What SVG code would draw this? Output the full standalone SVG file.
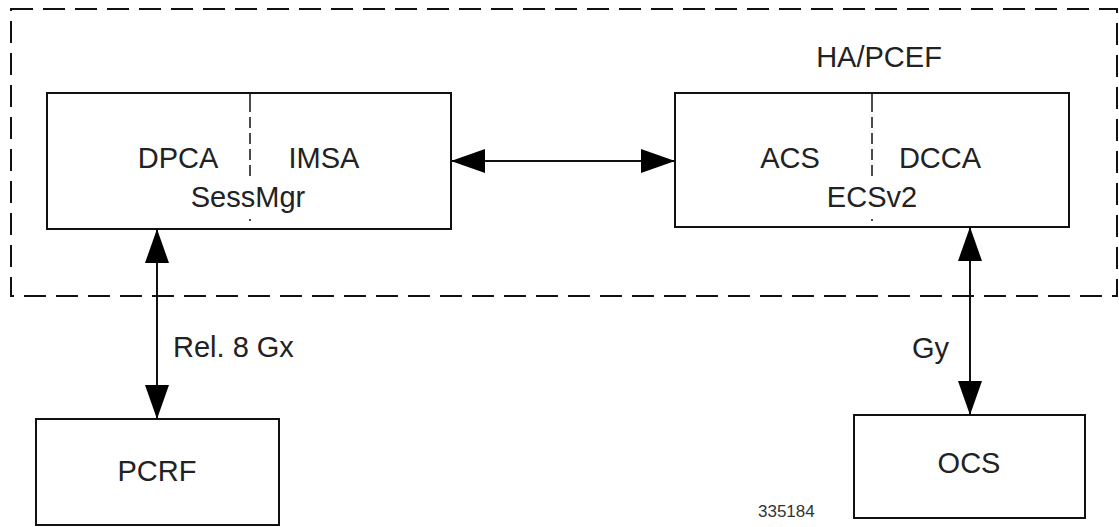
<svg xmlns="http://www.w3.org/2000/svg" width="1119" height="527" viewBox="0 0 1119 527">
<style>
.box{fill:#fff;stroke:#111;stroke-width:2}
.div{stroke:#111;stroke-width:1.5;fill:none}
.dash{stroke-dasharray:11 5}
.t{font-family:"Liberation Sans",Arial,sans-serif;font-size:29px;fill:#222;text-anchor:middle}
.c{stroke:#111;stroke-width:2;fill:none}
</style>
<defs>
<marker id="ah" viewBox="0 0 34 24" refX="34" refY="12" markerWidth="34" markerHeight="24" markerUnits="userSpaceOnUse" orient="auto-start-reverse">
<path d="M0,0 L34,12 L0,24 Z" fill="#000"/>
</marker>
</defs>
<rect id="boundary" x="11" y="9" width="1106" height="287" fill="none" stroke="#111" stroke-width="2" stroke-dasharray="22 10"/>
<text class="t" x="879" y="67">HA/PCEF</text>
<g id="sessmgr">
<rect class="box" x="47" y="93" width="404" height="136"/>
<line class="div" x1="250" y1="93" x2="250" y2="112"/>
<line class="div dash" x1="250" y1="117" x2="250" y2="180"/>
<line class="div" x1="250" y1="219" x2="250" y2="221"/>
<text class="t" x="178" y="168">DPCA</text>
<text class="t" x="324" y="168">IMSA</text>
<text class="t" x="248" y="207">SessMgr</text>
</g>
<g id="ecsv2">
<rect class="box" x="675" y="93" width="394" height="134"/>
<line class="div" x1="872" y1="93" x2="872" y2="112"/>
<line class="div dash" x1="872" y1="117" x2="872" y2="180"/>
<line class="div" x1="872" y1="219" x2="872" y2="221"/>
<text class="t" x="790" y="168">ACS</text>
<text class="t" x="940" y="168">DCCA</text>
<text class="t" x="872" y="207">ECSv2</text>
</g>
<g id="pcrf">
<rect class="box" x="36" y="419" width="243" height="106"/>
<text class="t" x="157" y="481">PCRF</text>
</g>
<g id="ocs">
<rect class="box" x="854" y="415" width="231" height="103"/>
<text class="t" x="969" y="473">OCS</text>
</g>
<g id="connectors">
<line class="c" x1="451" y1="161" x2="675" y2="161" marker-start="url(#ah)" marker-end="url(#ah)"/>
<line class="c" x1="157" y1="229" x2="157" y2="419" marker-start="url(#ah)" marker-end="url(#ah)"/>
<line class="c" x1="970" y1="227" x2="970" y2="415" marker-start="url(#ah)" marker-end="url(#ah)"/>
<text class="t" x="173" y="357" style="text-anchor:start">Rel. 8 Gx</text>
<text class="t" x="912" y="358" style="text-anchor:start">Gy</text>
</g>
<text x="758" y="517" style="font-family:'Liberation Sans',Arial,sans-serif;font-size:17px;fill:#333">335184</text>
</svg>
